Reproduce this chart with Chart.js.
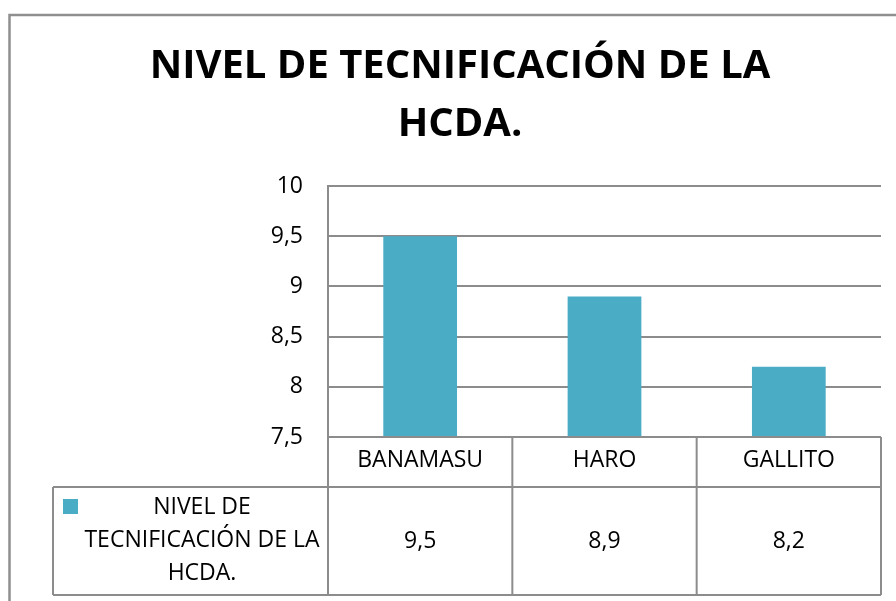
<!DOCTYPE html>
<html><head><meta charset="utf-8">
<script src="https://cdn.jsdelivr.net/npm/chart.js@4.4.1/dist/chart.umd.min.js"></script>
<style>html,body{margin:0;padding:0;background:#fff;overflow:hidden}#wrap{width:896px;height:601px;position:relative}</style>
</head><body><div id="wrap"><canvas id="c" width="896" height="601"></canvas></div>
<script>
const categories = ['BANAMASU', 'HARO', 'GALLITO'];
const values = [9.5, 8.9, 8.2];
const seriesName = 'NIVEL DE TECNIFICACIÓN DE LA HCDA.';
const titleLines = ['NIVEL DE TECNIFICACIÓN DE LA', 'HCDA.'];
const legendLines = ['NIVEL DE', 'TECNIFICACIÓN DE LA', 'HCDA.'];
const yMin = 7.5, yMax = 10, yStep = 0.5;

const BAR = '#4bacc6';
const LINE = '#8c8c8c';
const FONT = "'Open Sans', sans-serif";
const FS = 23;
const fmt = v => String(v).replace('.', ',');

const framePlugin = {
  id: 'frame',
  beforeDraw(chart) {
    const ctx = chart.ctx;
    ctx.save();
    ctx.fillStyle = '#fff';
    ctx.fillRect(0, 0, chart.width, chart.height);
    ctx.strokeStyle = '#8f8f8f';
    ctx.lineWidth = 2.5;
    ctx.beginPath();
    ctx.moveTo(9.5, chart.height + 5);
    ctx.lineTo(9.5, 15);
    ctx.lineTo(chart.width + 5, 15);
    ctx.stroke();
    ctx.restore();
  }
};

const tablePlugin = {
  id: 'dataTable',
  afterDraw(chart) {
    const ctx = chart.ctx;
    const a = chart.chartArea;
    const x = chart.scales.x;
    const n = categories.length;
    const bounds = [a.left];
    for (let i = 0; i < n - 1; i++) bounds.push((x.getPixelForValue(i) + x.getPixelForValue(i + 1)) / 2);
    bounds.push(a.right);
    const rowTop = a.bottom, rowMid = a.bottom + 50, rowBot = x.bottom - 1;
    const legLeft = 53;
    ctx.save();
    ctx.strokeStyle = LINE;
    ctx.lineWidth = 2;
    ctx.beginPath();
    ctx.moveTo(a.left, rowTop); ctx.lineTo(a.right, rowTop);
    ctx.moveTo(legLeft, rowMid); ctx.lineTo(a.right, rowMid);
    ctx.moveTo(legLeft, rowBot); ctx.lineTo(a.right, rowBot);
    bounds.forEach(b => { ctx.moveTo(b, rowTop); ctx.lineTo(b, rowBot); });
    ctx.moveTo(legLeft, rowMid); ctx.lineTo(legLeft, rowBot);
    ctx.stroke();

    ctx.fillStyle = '#000';
    ctx.font = FS + 'px ' + FONT;
    ctx.textAlign = 'center';
    ctx.textBaseline = 'middle';
    const vy = (rowMid + rowBot) / 2;
    values.forEach((v, i) => ctx.fillText(fmt(v), x.getPixelForValue(i), vy));

    // legend cell
    ctx.fillStyle = BAR;
    ctx.fillRect(63, rowMid + 12, 15, 15);
    ctx.fillStyle = '#000';
    const cx = 202;
    legendLines.forEach((t, i) => ctx.fillText(t, cx, rowMid + 20 + i * 33));
    ctx.restore();
  }
};

new Chart(document.getElementById('c'), {
  type: 'bar',
  data: {
    labels: categories,
    datasets: [{
      label: seriesName,
      data: values,
      backgroundColor: BAR,
      borderWidth: 0,
      categoryPercentage: 1,
      barPercentage: 0.4
    }]
  },
  options: {
    responsive: false,
    animation: false,
    devicePixelRatio: 1,
    layout: { padding: { left: 39, right: 15, top: 0, bottom: 5 } },
    plugins: {
      legend: { display: false },
      tooltip: { enabled: false },
      title: {
        display: true,
        text: titleLines,
        color: '#000',
        font: { family: FONT, size: 40, weight: 'bold', lineHeight: 1.45 },
        padding: { top: 38, bottom: 32 }
      }
    },
    scales: {
      x: {
        grid: { display: false, drawTicks: false },
        border: { display: false },
        ticks: { color: '#000', font: { family: FONT, size: FS }, padding: 10, maxRotation: 0 },
        afterFit(s) { s.height = 159; }
      },
      y: {
        min: yMin, max: yMax,
        grid: { color: LINE, lineWidth: 2, drawTicks: false },
        border: { display: true, color: LINE, width: 2 },
        ticks: { stepSize: yStep, color: '#000', font: { family: FONT, size: FS }, padding: 25, callback: v => fmt(v) },
        afterFit(s) { s.width = 289; }
      }
    }
  },
  plugins: [framePlugin, tablePlugin]
});
</script></body></html>
